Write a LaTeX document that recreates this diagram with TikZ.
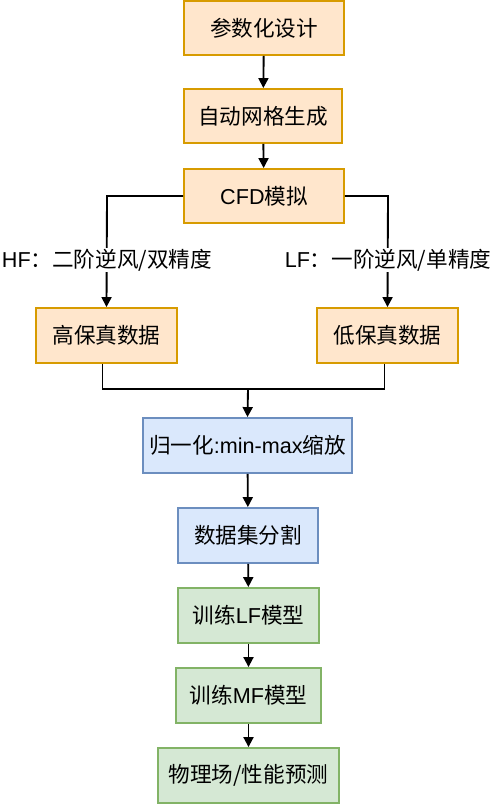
\documentclass[tikz,border=0pt]{standalone}
\usepackage{fontspec}
\setmainfont{Noto Sans CJK SC}
\newfontfamily\latinf{Liberation Sans}
\usetikzlibrary{arrows.meta}
\newcommand{\lt}[1]{{\latinf #1}}
\definecolor{ofill}{HTML}{FFE6CC}\definecolor{odraw}{HTML}{D79B00}
\definecolor{bfill}{HTML}{DAE8FC}\definecolor{bdraw}{HTML}{6C8EBF}
\definecolor{gfill}{HTML}{D5E8D4}\definecolor{gdraw}{HTML}{82B366}
\tikzset{
  boxbase/.style={rectangle, inner sep=0pt, line width=1.4pt, font=\fontsize{16.2pt}{19pt}\selectfont, text=black},
  obox/.style={boxbase, fill=ofill, draw=odraw},
  bbox/.style={boxbase, fill=bfill, draw=bdraw},
  gbox/.style={boxbase, fill=gfill, draw=gdraw},
  conn/.style={line width=1.4pt, draw=black},
  arr/.style={conn, -{Triangle[length=7.5pt, width=7.5pt]}},
  lbl/.style={fill=white, inner sep=1pt, font=\fontsize{16.2pt}{19pt}\selectfont}
}
\begin{document}
\begin{tikzpicture}[x=0.75pt,y=-0.75pt]
\useasboundingbox (0,0) rectangle (493,805);
\node[obox, minimum width=120pt, minimum height=40.5pt] (A) at (264,28) {参数化设计};
\node[obox, minimum width=118.5pt, minimum height=40.5pt] (B) at (263,116) {自动网格生成};
\node[obox, minimum width=120pt, minimum height=40.5pt] (C) at (264,196) {\lt{CFD}模拟};
\node[obox, minimum width=105.75pt, minimum height=41.25pt] (HF) at (106.5,335.5) {高保真数据};
\node[obox, minimum width=105.75pt, minimum height=41.25pt] (LF) at (387.5,335.5) {低保真数据};
\node[bbox, minimum width=156.75pt, minimum height=41.25pt] (N) at (247.5,445.5) {归一化\lt{:min-max}缩放};
\node[bbox, minimum width=105pt, minimum height=41.25pt] (D) at (248,535.5) {数据集分割};
\node[gbox, minimum width=105.75pt, minimum height=41.25pt] (T1) at (248.5,615.5) {训练\lt{LF}模型};
\node[gbox, minimum width=108.75pt, minimum height=41.25pt] (T2) at (248.5,695.5) {训练\lt{MF}模型};
\node[gbox, minimum width=135.75pt, minimum height=41.25pt] (P) at (248.5,775.5) {物理场/性能预测};
\draw[arr] (A) -- (B);
\draw[arr] (B) -- (C);
\coordinate (cl) at (107,196);
\coordinate (cr) at (388,196);
\draw[arr] (C.west) -- (cl) -- (HF.north);
\draw[arr] (C.east) -- (cr) -- (LF.north);
\node[lbl] (hfl) at (107,260) {\lt{HF}：二阶逆风/双精度};
\node[lbl] (lfl) at (388,260) {\lt{LF}：一阶逆风/单精度};
\coordinate (m) at (248,389);
\draw[conn] ([xshift=-3pt]HF.south) |- (m) -| ([xshift=-2.25pt]LF.south);
\draw[arr] (m) -- (N.north);
\draw[arr] (N) -- (D);
\draw[arr] (D) -- (T1);
\draw[arr] (T1) -- (T2);
\draw[arr] (T2) -- (P);
\end{tikzpicture}
\end{document}
